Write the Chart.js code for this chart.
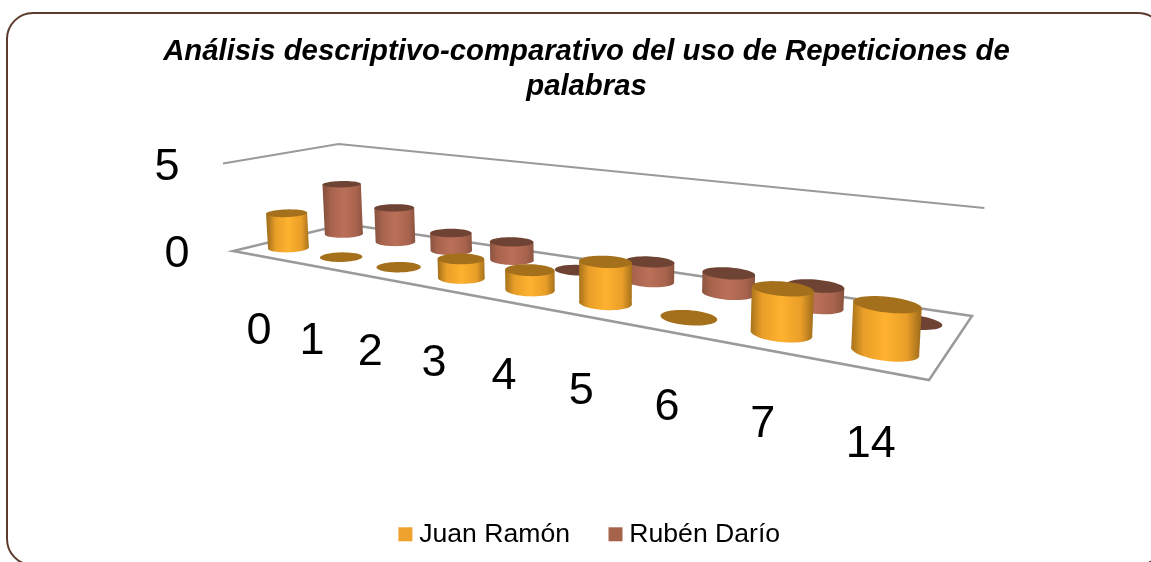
<!DOCTYPE html>
<html lang="es">
<head>
<meta charset="utf-8">
<title>Repeticiones de palabras</title>
<script src="https://cdn.jsdelivr.net/npm/chart.js@4"></script>
<style>
  html, body { margin: 0; padding: 0; background: #fff; overflow: hidden; }
  #wrap { position: relative; width: 1151px; height: 562px; }
</style>
</head>
<body>
<div id="wrap"><canvas id="myChart"></canvas></div>
<script>
// Values
const categories = ["0", "1", "2", "3", "4", "5", "6", "7", "14"];
const juanRamon = [2, 0, 0, 1, 1, 2, 0, 2, 2];
const rubenDario = [3, 2, 1, 1, 0, 1, 1, 1, 0];
const maxValue = 5;

const fontName = '"Liberation Sans", Arial, sans-serif';

// Corners of the floor on screen, everything else is projected from these
const floorFL = [233, 251];
const floorFR = [929, 380];
const floorBR = [972, 316];
const floorBL = [345, 224];

// Square to quad homography
const dx1 = floorFR[0] - floorBR[0];
const dx2 = floorBL[0] - floorBR[0];
const sx = floorFL[0] - floorFR[0] + floorBR[0] - floorBL[0];
const dy1 = floorFR[1] - floorBR[1];
const dy2 = floorBL[1] - floorBR[1];
const sy = floorFL[1] - floorFR[1] + floorBR[1] - floorBL[1];
const den = dx1 * dy2 - dx2 * dy1;
const g = (sx * dy2 - dx2 * sy) / den;
const h = (dx1 * sy - sx * dy1) / den;
const a = floorFR[0] - floorFL[0] + g * floorFR[0];
const b = floorBL[0] - floorFL[0] + h * floorBL[0];
const d = floorFR[1] - floorFL[1] + g * floorFR[1];
const e = floorBL[1] - floorFL[1] + h * floorBL[1];

// u runs along the categories, v runs into the depth, val is in chart units
const project = (u, v, val, lean = 1) => {
  const w = g * u + h * v + 1;
  const x = (a * u + b * v + floorFL[0]) / w;
  const y = (d * u + e * v + floorFL[1]) / w;
  const up = val * (5 + 12.5 / w);
  // verticals lean outwards a little from the middle of the chart
  return [x + (x - 602) * 0.00031 * up * lean, y - up];
};

const rowDepth = [0.25, 0.75];
const depthRadius = 0.12;
const barLean = 0.55; // the cylinders lean less than the walls
const uBow = 0.0065; // the middle categories sit a bit further right than pure perspective

const looks = [
  { edge: "#a8721c", side: "#e89e28", mid: "#ffb22f", top: "#a5701c" },
  { edge: "#8c5440", side: "#a9644e", mid: "#ba6f58", top: "#6f4333" },
];

const polygon = (ctx, pts) => {
  ctx.beginPath();
  pts.forEach((p, i) => (i ? ctx.lineTo(p[0], p[1]) : ctx.moveTo(p[0], p[1])));
  ctx.closePath();
};

const drawCylinder = (ctx, u, v, ru, val, look) => {
  const base = [];
  const top = [];
  for (let i = 0; i < 48; i++) {
    const t = (i / 48) * Math.PI * 2;
    const pu = u + ru * Math.cos(t);
    const pv = v + depthRadius * Math.sin(t);
    base.push(project(pu, pv, 0));
    top.push(project(pu, pv, val, barLean));
  }
  if (val > 0) {
    let left = 0;
    let right = 0;
    base.forEach((p, i) => {
      if (p[0] < base[left][0]) left = i;
      if (p[0] > base[right][0]) right = i;
    });
    const grad = ctx.createLinearGradient(base[left][0], 0, base[right][0], 0);
    grad.addColorStop(0, look.edge);
    grad.addColorStop(0.18, look.side);
    grad.addColorStop(0.5, look.mid);
    grad.addColorStop(0.82, look.side);
    grad.addColorStop(1, look.edge);
    ctx.fillStyle = grad;
    polygon(ctx, base);
    ctx.fill();
    polygon(ctx, [base[left], top[left], top[right], base[right]]);
    ctx.fill();
  }
  ctx.fillStyle = look.top;
  polygon(ctx, top);
  ctx.fill();
};

const perspectivePlugin = {
  id: "perspective",
  afterLayout(chart) {
    // title and legend do not sit on the canvas centre in the original
    chart.titleBlock.left += 11;
    chart.titleBlock.right += 11;
    chart.titleBlock.top = 34;
    const pad = chart.options.plugins.legend.labels.padding;
    chart.legend.left += 17;
    chart.legend.right += 17;
    chart.legend.top = 521 - pad;
  },
  beforeDraw(chart) {
    const ctx = chart.ctx;
    ctx.save();
    ctx.strokeStyle = "#5c3b2c";
    ctx.lineWidth = 2;
    ctx.beginPath();
    ctx.roundRect(7, 13, 1157, 552, 26);
    ctx.stroke();
    ctx.restore();
  },
  beforeDatasetsDraw(chart) {
    const ctx = chart.ctx;
    const area = chart.chartArea;
    const yScale = chart.scales.y;
    const xScale = chart.scales.x;
    const toU = (px) => {
      const t = (px - area.left) / (area.right - area.left);
      return t + uBow * Math.sin(Math.PI * t);
    };

    // floor and the top edge of the walls
    ctx.save();
    ctx.strokeStyle = "#9a9a9a";
    ctx.lineWidth = 2.5;
    polygon(ctx, [[0, 0], [1, 0], [1, 1], [0, 1]].map((c) => project(c[0], c[1], 0)));
    ctx.stroke();
    ctx.lineWidth = 2;
    ctx.beginPath();
    [[0, 0], [0, 1], [1, 1]].forEach((c, i) => {
      const p = project(c[0], c[1], yScale.max);
      i ? ctx.lineTo(p[0], p[1]) : ctx.moveTo(p[0], p[1]);
    });
    ctx.stroke();

    // back row first so the front row covers it
    for (let ds = chart.data.datasets.length - 1; ds >= 0; ds--) {
      chart.getDatasetMeta(ds).data.forEach((el) => {
        const val = yScale.getValueForPixel(el.y);
        const ru = el.width / 2 / (area.right - area.left);
        drawCylinder(ctx, toU(el.x), rowDepth[ds], ru, val, looks[ds]);
      });
    }

    // axis labels, hung off the projected axes
    ctx.fillStyle = "#000000";
    ctx.font = "45px " + fontName;
    ctx.textAlign = "center";
    ctx.textBaseline = "middle";
    yScale.ticks.forEach((t) => {
      const p = project(0, 0, t.value);
      ctx.fillText(String(t.value), p[0] - 56, p[1] + 4);
    });
    categories.forEach((c, i) => {
      const p = project(toU(xScale.getPixelForValue(i)), 0, 0);
      ctx.fillText(c, p[0] + 1, p[1] + 76);
    });
    ctx.restore();
    return false; // plain bars are replaced by the cylinders
  },
};

new Chart(document.getElementById("myChart").getContext("2d"), {
  type: "bar",
  data: {
    labels: categories,
    datasets: [
      { label: "Juan Ramón", data: juanRamon, backgroundColor: "#f0a22e" },
      { label: "Rubén Darío", data: rubenDario, backgroundColor: "#a5634c" },
    ],
  },
  options: {
    responsive: true,
    maintainAspectRatio: false,
    animation: false,
    events: [],
    grouped: false,
    categoryPercentage: 0.77,
    barPercentage: 0.77,
    scales: {
      x: { display: false },
      y: { display: false, min: 0, max: maxValue, ticks: { stepSize: maxValue } },
    },
    plugins: {
      tooltip: { enabled: false },
      title: {
        display: true,
        text: [
          "Análisis descriptivo-comparativo del uso de Repeticiones de",
          "palabras",
        ],
        color: "#000000",
        font: { family: fontName, size: 29.3, weight: "bold", style: "italic", lineHeight: 1.2 },
        padding: 0,
      },
      legend: {
        position: "bottom",
        labels: {
          color: "#000000",
          font: { family: fontName, size: 26.6 },
          usePointStyle: true,
          pointStyle: "rect",
          boxWidth: 1,
          boxHeight: 14,
          padding: 45,
        },
      },
    },
  },
  plugins: [perspectivePlugin],
});
</script>
</body>
</html>
